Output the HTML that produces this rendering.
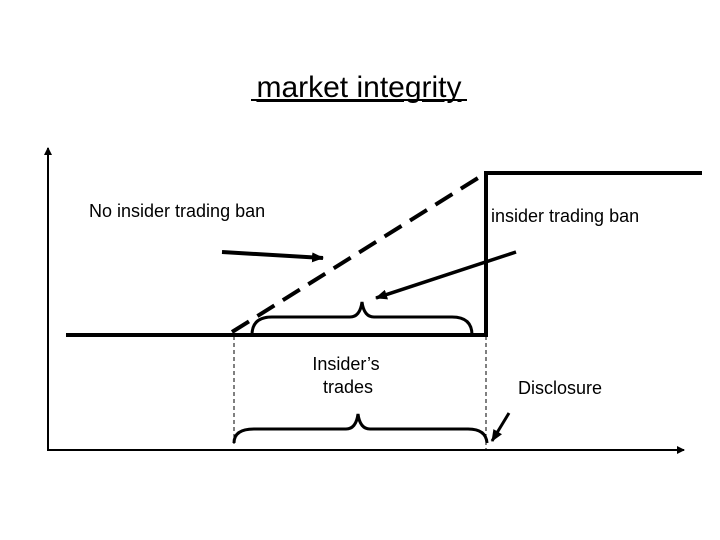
<!DOCTYPE html>
<html><head><style>
body{margin:0;background:#fff;width:720px;height:540px;overflow:hidden}
svg{display:block}
text{font-family:"Liberation Sans",Arial,sans-serif;fill:#000}
</style></head><body>
<svg width="720" height="540" viewBox="0 0 720 540">
<defs>
<marker id="a" markerWidth="8" markerHeight="8" refX="7" refY="4" orient="auto" markerUnits="userSpaceOnUse"><path d="M0,0 L8,4 L0,8 Z" fill="#000"/></marker>
<marker id="b" markerWidth="12" markerHeight="10" refX="11" refY="5" orient="auto" markerUnits="userSpaceOnUse"><path d="M0,0 L12,5 L0,10 Z" fill="#000"/></marker>
</defs>
<text x="359" y="97" font-size="30" text-anchor="middle" text-decoration="underline">market integrity</text>
<line x1="251" y1="100" x2="467" y2="100" stroke="#000" stroke-width="2"/>
<line x1="48" y1="451" x2="48" y2="148" stroke="#000" stroke-width="2" marker-end="url(#a)"/>
<line x1="47" y1="450" x2="684" y2="450" stroke="#000" stroke-width="2" marker-end="url(#a)"/>
<polyline points="66,335 486,335 486,173 702,173" fill="none" stroke="#000" stroke-width="4"/>
<line x1="232" y1="332" x2="486" y2="173" stroke="#000" stroke-width="4" stroke-dasharray="20,10"/>
<line x1="234" y1="336" x2="234" y2="444" stroke="#000" stroke-width="1" stroke-dasharray="4,3"/>
<line x1="486" y1="336" x2="486" y2="450" stroke="#000" stroke-width="1" stroke-dasharray="4,3"/>
<path d="M252,335 Q252,317 272,317 L350,317 Q360,317 362,302 Q364,317 374,317 L452,317 Q472,317 472,335" fill="none" stroke="#000" stroke-width="3"/>
<path d="M234,443 Q234,429 254,429 L346,429 Q356,429 358,414 Q360,429 370,429 L468,429 Q486,429 487,443" fill="none" stroke="#000" stroke-width="3"/>
<line x1="222" y1="252" x2="323" y2="258" stroke="#000" stroke-width="4" marker-end="url(#b)"/>
<line x1="516" y1="252" x2="376" y2="298" stroke="#000" stroke-width="3.5" marker-end="url(#b)"/>
<line x1="509" y1="413" x2="492" y2="441" stroke="#000" stroke-width="3" marker-end="url(#b)"/>
<text x="89" y="217" font-size="18">No insider trading ban</text>
<text x="491" y="222" font-size="18">insider trading ban</text>
<text x="346" y="370" font-size="18" text-anchor="middle">Insider’s</text>
<text x="348" y="393" font-size="18" text-anchor="middle">trades</text>
<text x="518" y="394" font-size="18">Disclosure</text>
</svg>
</body></html>
